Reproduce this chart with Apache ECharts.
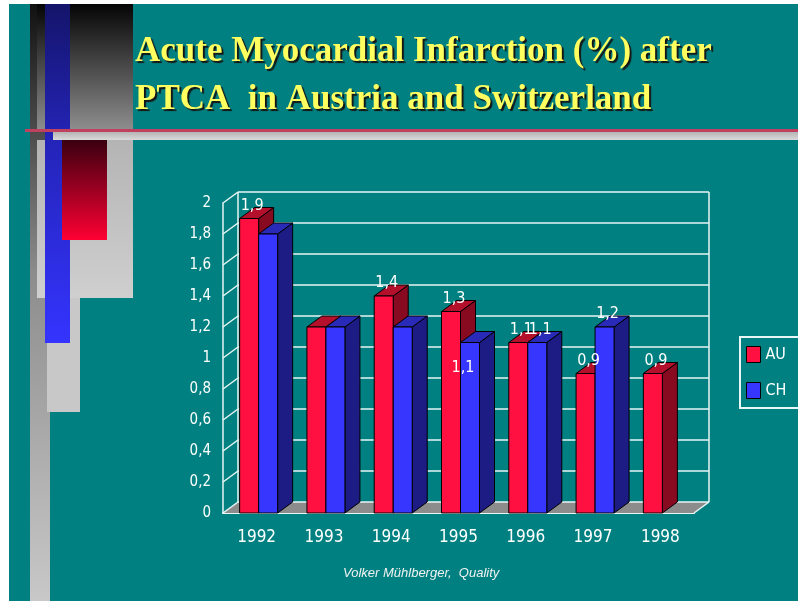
<!DOCTYPE html>
<html>
<head>
<meta charset="utf-8">
<script src="https://cdn.jsdelivr.net/npm/echarts@6/dist/echarts.min.js"></script>
<style>
  html, body { margin: 0; padding: 0; background: #fff; }
  #chart { width: 798px; height: 601px; }
</style>
</head>
<body>
<div id="chart"></div>
<script>
const years = ['1992', '1993', '1994', '1995', '1996', '1997', '1998']
const au = [1.9, 1.2, 1.4, 1.3, 1.1, 0.9, 0.9]
const ch = [1.8, 1.2, 1.2, 1.1, 1.1, 1.2, null]
// which bars carry a value label in the slide
const auShown = [1, 0, 1, 1, 1, 1, 1]
const chShown = [0, 0, 0, 1, 1, 1, 0]
const yTicks = [0, 0.2, 0.4, 0.6, 0.8, 1, 1.2, 1.4, 1.6, 1.8, 2]

const NARROW = "'Liberation Sans Narrow', 'DejaVu Sans Condensed', 'Arial Narrow', sans-serif"
const BW = 19     // bar front width
const DX = 15     // depth offset x
const DY = -11    // depth offset y
const SHIFT = 2
const WHITE = '#e8f6f6'
const palette = [
  { front: '#ff1040', top: '#b4102c', side: '#880a20' },
  { front: '#3636ff', top: '#2a2ab8', side: '#1c1c84' }
]

const fmt = v => String(Number(v.toFixed(1))).replace('.', ',')

function barGeom (api, idx, i, v) {
  const top = api.coord([i, v])
  const base = api.coord([i, 0])
  const x0 = top[0] + (idx === 0 ? -BW : 0) + SHIFT
  return { x0, ty: top[1], by: base[1] }
}

function barRenderer (idx) {
  const c = palette[idx]
  return function (params, api) {
    const i = api.value(0)
    const v = api.value(1)
    if (isNaN(v)) return null
    const { x0, ty, by } = barGeom(api, idx, i, v)
    const edge = { stroke: '#000', lineWidth: 1 }
    return {
      type: 'group',
      children: [
        {
          type: 'polygon',
          shape: { points: [[x0 + BW, ty], [x0 + BW + DX, ty + DY], [x0 + BW + DX, by + DY], [x0 + BW, by]] },
          style: Object.assign({ fill: c.side }, edge)
        },
        {
          type: 'polygon',
          shape: { points: [[x0, ty], [x0 + BW, ty], [x0 + BW + DX, ty + DY], [x0 + DX, ty + DY]] },
          style: Object.assign({ fill: c.top }, edge)
        },
        {
          type: 'rect',
          shape: { x: x0, y: ty, width: BW, height: by - ty },
          style: Object.assign({ fill: c.front }, edge)
        }
      ]
    }
  }
}

function labelRenderer (params, api) {
  const i = api.value(0)
  const v = api.value(1)
  const idx = api.value(2)
  const { x0, ty } = barGeom(api, idx, i, v)
  // the CH 1995 label sits inside its bar on the slide
  const inside = idx === 1 && i === 3
  return {
    type: 'text',
    style: {
      text: fmt(v),
      x: x0 + BW / 2 + (inside ? -7 : 3),
      y: inside ? ty + 25 : ty - 13,
      fill: '#fff',
      font: '16px ' + NARROW,
      align: 'center',
      verticalAlign: 'middle'
    }
  }
}

function wallRenderer (params, api) {
  const v = api.value(1)
  const cs = params.coordSys
  const y = api.coord([0, v])[1]
  const xl = cs.x
  const xr = cs.x + cs.width
  const ln = (x1, y1, x2, y2) => ({
    type: 'line',
    shape: { x1, y1, x2, y2 },
    style: { stroke: WHITE, lineWidth: 1.5 }
  })
  const children = []
  if (v === 0) {
    const yt = api.coord([0, yTicks[yTicks.length - 1]])[1]
    children.push({
      type: 'polygon',
      shape: { points: [[xl, y], [xr, y], [xr + DX, y + DY], [xl + DX, y + DY]] },
      style: { fill: '#8c8c8c' }
    })
    children.push(ln(xr, y, xr + DX, y + DY))
    children.push(ln(xl + DX, y + DY, xl + DX, yt + DY))
    children.push(ln(xr + DX, y + DY, xr + DX, yt + DY))
  }
  children.push(ln(xl, y, xl + DX, y + DY))
  children.push(ln(xl + DX, y + DY, xr + DX, y + DY))
  return { type: 'group', children }
}

const labelRows = []
au.forEach((v, i) => { if (auShown[i]) labelRows.push([i, v, 0]) })
ch.forEach((v, i) => { if (chShown[i] && v != null) labelRows.push([i, v, 1]) })

const lin = stops => ({
  type: 'linear', x: 0, y: 0, x2: 0, y2: 1,
  colorStops: stops.map(s => ({ offset: s[0], color: s[1] }))
})

const chart = echarts.init(document.getElementById('chart'))
const option = {
  backgroundColor: '#008080',
  animation: false,
  title: {
    text: 'Acute Myocardial Infarction (%) after\nPTCA  in Austria and Switzerland',
    left: 135,
    top: 28,
    padding: 0,
    textStyle: {
      fontFamily: "'Liberation Serif', 'DejaVu Serif', serif",
      fontWeight: 'bold',
      fontSize: 35,
      lineHeight: 48,
      color: '#ffff60',
      textShadowColor: '#141414',
      textShadowOffsetX: 2,
      textShadowOffsetY: 2,
      textShadowBlur: 1
    }
  },
  legend: {
    data: ['AU', 'CH'],
    orient: 'vertical',
    left: 740,
    top: 337,
    padding: [9, 14, 9, 6],
    itemGap: 19,
    itemWidth: 14,
    itemHeight: 16,
    icon: 'rect',
    borderColor: WHITE,
    borderWidth: 2,
    itemStyle: { borderColor: '#000', borderWidth: 1 },
    textStyle: { color: '#fff', fontSize: 16, fontFamily: NARROW }
  },
  grid: { left: 223, top: 203, width: 471, height: 310 },
  xAxis: {
    type: 'category',
    data: years,
    axisLine: { lineStyle: { color: WHITE, width: 2 } },
    axisTick: { lineStyle: { color: WHITE }, length: 4 },
    axisLabel: { color: '#fff', fontSize: 17, fontFamily: NARROW, margin: 16 },
    splitLine: { show: false }
  },
  yAxis: {
    type: 'value',
    min: 0,
    max: 2,
    interval: 0.2,
    axisLine: { show: true, lineStyle: { color: WHITE, width: 1.5 } },
    axisTick: { show: false },
    axisLabel: { color: '#fff', fontSize: 15, fontFamily: NARROW, margin: 12, formatter: fmt },
    splitLine: { show: false }
  },
  graphic: [
    { type: 'rect', shape: { x: 0, y: 0, width: 9, height: 601 }, style: { fill: '#fff' } },
    { type: 'rect', shape: { x: 0, y: 0, width: 798, height: 4 }, style: { fill: '#fff' } },
    { type: 'rect', shape: { x: 30, y: 4, width: 20, height: 597 },
      style: { fill: lin([[0, '#111'], [0.45, '#8c8c8c'], [1, '#c8c8c8']]) } },
    { type: 'rect', shape: { x: 37, y: 4, width: 96, height: 126 },
      style: { fill: lin([[0, '#050505'], [1, '#8e8e8e']]) } },
    { type: 'rect', shape: { x: 37, y: 140, width: 96, height: 158 },
      style: { fill: lin([[0, '#b4b4b4'], [1, '#cfcfcf']]) } },
    { type: 'rect', shape: { x: 47, y: 298, width: 33, height: 114 }, style: { fill: '#c8c8c8' } },
    { type: 'rect', shape: { x: 45, y: 4, width: 25, height: 339 },
      style: { fill: lin([[0, '#14146a'], [0.4, '#2424b8'], [1, '#3434ff']]) } },
    { type: 'rect', shape: { x: 53, y: 132, width: 745, height: 8 },
      style: { fill: lin([[0, '#b4b4b4'], [1, '#dadada']]) } },
    { type: 'rect', shape: { x: 25, y: 129, width: 773, height: 3 }, style: { fill: '#c04060' } },
    { type: 'rect', shape: { x: 62, y: 140, width: 45, height: 100 },
      style: { fill: lin([[0, '#3a0010'], [1, '#ff0033']]) } },
    {
      type: 'text',
      style: {
        text: 'Volker Mühlberger,  Quality',
        x: 343, y: 573,
        fill: '#f2f2f2',
        font: "italic 13px 'Liberation Sans', 'DejaVu Sans', sans-serif",
        verticalAlign: 'middle'
      }
    }
  ],
  series: [
    {
      name: 'wall',
      type: 'custom',
      renderItem: wallRenderer,
      data: yTicks.map(v => [0, v]),
      encode: { x: 0, y: 1 },
      silent: true
    },
    {
      name: 'AU',
      type: 'custom',
      renderItem: barRenderer(0),
      itemStyle: { color: palette[0].front },
      data: au.map((v, i) => [i, v]),
      encode: { x: 0, y: 1 }
    },
    {
      name: 'CH',
      type: 'custom',
      renderItem: barRenderer(1),
      itemStyle: { color: palette[1].front },
      data: ch.map((v, i) => [i, v == null ? '-' : v]),
      encode: { x: 0, y: 1 }
    },
    {
      name: 'labels',
      type: 'custom',
      renderItem: labelRenderer,
      data: labelRows,
      encode: { x: 0, y: 1 },
      silent: true
    }
  ]
}
chart.setOption(option)
</script>
</body>
</html>
